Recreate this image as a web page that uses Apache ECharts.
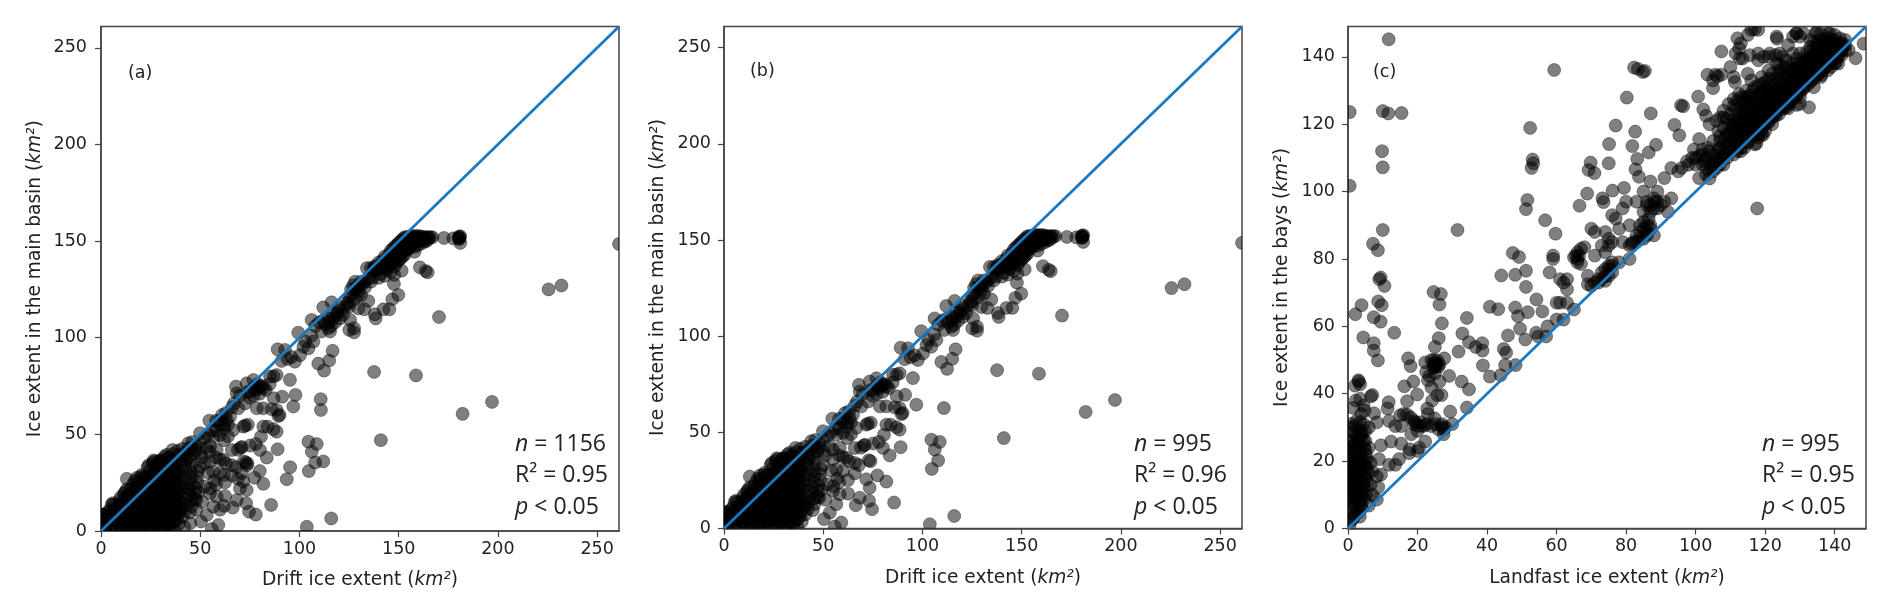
<!DOCTYPE html>
<html>
<head>
<meta charset="utf-8">
<style>html,body{margin:0;padding:0;background:#fff}#c{width:1892px;height:608px}</style>
<script src="https://cdn.jsdelivr.net/npm/echarts@6/dist/echarts.min.js"></script>
</head>
<body>
<div id="c"></div>
<script>
// Points common to panels (a) and (b): [drift ice extent, ice extent in main basin]
const driftBasinShared = [
[261,148.5],[232,127],[225.5,125],[170.3,110.7],[137.6,82.3],[158.7,80.5],[197,66.8],[182.2,60.6],[141,47],[116,6.5],[103.7,2.2],
[172.8,151.6],[177.5,151.4],[180.2,152],[180.6,151.4],[181,152.5],[180.4,151],[181,149],[180.6,152.2],
[160.7,136.4],[163.6,134.5],[164.6,133.8],[151.5,134.7],[147.8,132.5],[147.6,127.8],[149.8,122.1],[146.8,119.9],[145.3,114.7],[142.3,114.7],[138,112.1],[138.4,110],[132.7,114.7],[129.7,115.2],[134.7,119],
[127.5,102.8],[125.1,104],[127.5,104.9],[116.7,93.2],[115,88.2],[109.5,86.6],[112.4,83],[95.2,78.2],[96.9,64.4],[110.8,62.6],
[112,115.7],[116.2,118.3],[99.4,102.6],[106.1,109.2],[92.7,93.7],[91,88],[97.7,87.6],[100.3,91],[104.5,94.5],[107,98],[102,95.4],[111,103.2],[115.4,103.2],[114.5,104.9],[120.4,110],[125.5,109.2],
[89,94],[94,89],[96,90],[103,98],[106,101],[108,106],[110,108],[113,107],[115,110],[117,112],[119,113],[120,116],[122,112],[118,108],[116,106],[112,109],[124,118],[125,121],[126,125],[127,127],[128,129],[129,126],[130,124],[131,122],[128,120],[125,116],[132,128],[133,126],
[135,131],[136,136],[137,134],[138,137],[139,135],[140,139],[140,136],[141,133],[142,140],[142,137],[143,142],[143,136],[144,139],[144,135],[145,143],[145,140],[145,137],[146,145],[146,141],[146,138],[147,146],[147,143],[147,139],[148,147],[148,144],[148,141],[148,137],[149,148],[149,145],[149,142],[149,139],[150,149],[150,146],[150,143],[150,140],[151,150],[151,147],[151,144],[151,141],[152,151],[152,148],[152,145],[152,142],[153,152],[153,149],[153,146],[153,143],[154,152],[154,150],[154,147],[155,152],[155,149],[155,146],[156,152.5],[156,150],[156,147],[157,152.5],[157,150],[157,148],[158,152.5],[158,150],[158,147],[159,152.5],[159,150],[160,152.5],[160,150],[160,148],[161,152.5],[161,150],[162,152],[162,149],[163,152],[163,150],[164,152],[164,150],[165,152],[165,151],[166,152],[167,152],[158,144.5],[134,136],[137,131],[140,131],[143,132],[146,134],[133,129],[136,129],[129,122],[126,122],
[91.3,69.5],[87,68.7],[89.4,59.5],[88.5,62.6],[81.8,63.5],[78.5,63.5],[72.6,54.5],[74,55],[81.8,54],[86.9,52.6],[88.5,51.4],[80.6,48.8],[75.1,44.2],[70.4,43.1],[71,43.5],[80.1,41.9],[83.5,38],[89,42.3],[73.8,35],[73,35.5],
[104.5,46.2],[108.7,45],[106.2,41],[107.9,35.4],[104.7,31],[77.3,27.6],[81.8,24.4],[71.7,25.6],[65.9,28.7],[62.5,25.2],[73.4,21.2],[85.7,13.5],[74.6,10],[73.1,14.4],[68.4,16],[66.4,12.1],[62.5,18.1],[58.3,17.8],[56.6,12.6],[54.9,19.5],[53.3,8.3],[50.4,4.9],[59.1,3.1],[55.8,1],
[65.9,41.9],[61.7,36.8],[56.6,30.7],[54.9,41],[58.3,42],[71.7,54],[80.1,74.7],[88.5,80.7],[85.2,79.9],[76.8,78.1],[73.4,76.4],[68,74.7],[68.4,71.2],[72.6,66],[69.2,63.5],[65,59.2],[66.7,52.3],[56.6,48.8],[60,49.7],[63.3,57.5],[54.6,57.1],[49.9,50.6],[44,45.4],[36,41.9],
[78,73],[80,71],[81,75],[83,73],[85,76],[87,80],[79,76],[75,69],[77,70],[74,72],[70,70],[66,64],[67,66],[63,61],[61,60],[64,55],[62,53],[60,55],[58,52],[62,47],[64,49],[56,52],[54,50],[52,48],[50,46],[53,43],[51,38],[55,36],[58,38],[60,37],[47,40],[48,44],[46,46],[45,37],[44,41],[50,33],[54,30],[57,26],[52,23],[49,20],[48,16],[51,15],[55,22],[58,24],[60,30],[63,35],[68,33],[69,42],[66,34],[78,45],[84,54],[86,63],[90,60],
[1.5,1],[4.6,1.3],[8.2,.8],[11,1.5],[14.3,.7],[17.4,1.2],[20,.9],[23.5,1.4],[26.2,.8],[29.6,1.1],[32.3,.6],[35,1.4],[37,.7],
[.8,4],[3.5,3.6],[6.3,4.4],[9.7,3.7],[12.4,4.3],[15.6,3.5],[18.3,4.2],[21.7,3.6],[24.4,4.4],[27.6,3.8],[30.3,4.1],[33.8,3.6],[36.4,4.3],[39.2,3.7],
[.6,7],[2.7,6.6],[5.4,7.3],[8.6,6.5],[11.3,7.2],[14.7,6.6],[17.2,7.4],[20.5,6.7],[23.3,7.1],[26.5,6.6],[29.2,7.3],[32.6,6.6],[35.3,7.2],[38.5,6.7],[41,7.3],
[3.2,9.6],[6.8,10.2],[9.5,9.5],[12.8,10.3],[15.4,9.7],[18.7,10.1],[21.2,9.5],[24.6,10.2],[27.3,9.6],[30.6,10.2],[33.4,9.7],[36.7,10.1],[39.4,9.5],[42.3,10.2],[44.8,9.6],
[6.4,13.4],[9.2,12.7],[12.1,13.2],[15.8,12.6],[18.4,13.4],[21.6,12.8],[24.2,13.3],[27.8,12.6],[30.4,13.2],[33.2,12.7],[36.3,13.4],[39.7,12.8],[42.4,13.2],[45.6,12.7],
[9.4,15.7],[12.7,16.3],[15.2,15.6],[18.6,16.2],[21.3,15.7],[24.8,16.4],[27.4,15.6],[30.7,16.2],[33.5,15.8],[36.6,16.3],[39.3,15.6],[42.8,16.2],[45.4,15.7],[47.2,16.4],
[11.6,19.2],[14.3,18.7],[17.8,19.4],[20.4,18.6],[23.7,19.2],[26.3,18.8],[29.8,19.3],[32.4,18.6],[35.7,19.2],[38.2,18.7],[41.6,19.4],[44.3,18.8],[47.4,19.3],
[14.8,21.7],[17.3,22.3],[20.7,21.6],[23.4,22.2],[26.8,21.7],[29.3,22.4],[32.7,21.6],[35.4,22.2],[38.8,21.8],[41.3,22.3],[44.7,21.6],[47.8,22.2],
[18.2,25.2],[21.4,24.7],[24.7,25.3],[27.2,24.6],[30.8,25.2],[33.3,24.8],[36.8,25.3],[39.4,24.6],[42.7,25.2],[45.3,24.7],[48.6,25.3],
[21.3,27.7],[24.4,28.3],[27.7,27.6],[30.3,28.2],[33.6,27.8],[36.2,28.3],[39.7,27.6],[42.4,28.2],[45.6,27.7],[48.3,28.3],
[24.6,31.2],[27.3,30.7],[30.6,31.3],[33.2,30.6],[36.7,31.2],[39.3,30.8],[42.6,31.3],[45.2,30.7],[48.7,31.2],
[27.4,34],[30.3,33.6],[33.7,34.2],[36.4,33.7],[39.6,34.1],[42.3,33.6],[45.7,34.2],
[30.2,36.7],[33.4,37.2],[36.3,36.6],[39.8,37.3],[42.6,36.7],[44.3,38],
[33.1,39.4],[36.5,39.8],[39.4,39.6],[42.2,40.2],[44.6,43],[38.6,41.5],[41,42.5],
[-0.5,2],[2,8.5],[4.5,11],[6,14.4],[10,17.5],[13,21.5],[17,26],[20.5,29],[23.5,33],[26.5,36.5],[29.5,36.2],[32,38.5],[27,36],[24,34],[20,28],[16,24],[12,20],[5.4,13.8],[9.6,14],[.3,6.5],[.5,8.5],[1.5,8],[13,27],[18,27.5],[22,27.6],[26,35],[30,36],[34,38]
];
// Second pass over the solid black parts of panels (a) and (b)
const driftBasinDense = [
[2.5,2.4],[6.2,2.6],[9.8,2.2],[13.1,2.7],[16.4,2.3],[19.2,2.8],[22.4,2.4],[25.3,2.2],[28.5,2.7],[31.2,2.3],[34.4,2.6],
[2,5.4],[5,5.8],[8,5.2],[10.4,5.6],[13.6,5.3],[16.6,5.7],[19.4,5.2],[22.6,5.8],[25.4,5.3],[28.4,5.6],[31.5,5.2],[34.6,5.7],[37.5,5.3],
[4.6,8.4],[7.4,8.8],[10.3,8.2],[13.5,8.7],[16.3,8.3],[19.6,8.6],[22.2,8.2],[25.5,8.8],[28.4,8.3],[31.6,8.7],[34.3,8.2],[37.6,8.6],
[7.5,11.6],[10.6,11.2],[13.4,11.8],[16.7,11.3],[19.5,11.7],[22.7,11.2],[25.6,11.8],[28.6,11.3],[31.3,11.6],[34.7,11.2],[37.8,11.7],[40.5,11.3],
[10.5,14.5],[13.3,14.2],[16.5,14.8],[19.7,14.3],[22.4,14.7],[25.3,14.2],[28.7,14.6],[31.5,14.3],[34.4,14.8],[37.5,14.3],[40.6,14.6],
[13,17.6],[16.2,17.2],[19.4,17.8],[22.6,17.3],[25.5,17.7],[28.3,17.2],[31.6,17.6],[34.6,17.3],[37.3,17.8],
[16.2,20.4],[19.3,20.8],[22.2,20.3],[25.4,20.7],[28.4,20.2],[31.3,20.6],[34.5,20.3],[37.6,20.8],
[19.6,23.4],[22.5,23.8],[25.6,23.2],[28.6,23.7],[31.7,23.3],[34.2,23.6],[37.4,23.2],
[22.7,26.5],[25.7,26.2],[28.5,26.7],[31.6,26.3],[34.5,26.6],[37.5,26.2],
[26,29.5],[29,29.2],[32,29.7],[35,29.3],[38,29.6],[28.5,32.5],[31.5,32.2],[34.5,32.7],[37.5,32.3],[31.5,35.5],[35,35.2],[38,35.5],
[148,143],[149.5,144],[151,145.5],[152.5,147],[154,148.5],[155.5,150],[157,151],[158.5,151],[160,151],[161.5,151],[146.5,142],[145,141.5],[143.5,140],[142,138.5],[140.5,137.5],[139,136.5],[137.5,135.5],[150,142],[152,144],[154,145.5],[156,148.5],
[125,118],[123,116],[121,114],[119,112],[117,110],[115,108],[128,125],[130,127],[131,129],[77,74],[79,74],[82,74],[75,72],[58,57],[60,57],[62,55],[46,43],[48,42],[50,40]
];
// Points that appear only in panel (a)
const driftBasinOnlyA = [
[110.7,68.2],[98,70.4],[95.3,33],[93.6,26.8],[112,36],[78,8.5],[62,29],[69,27],[70,22],[71,30],[62,13],[80,31],[60,11],[48,11],[45,4],[42,2],[44,22],[52,35],[55,44],[72,36],[73.5,34]
];
// Panel (c): [landfast ice extent, ice extent in the bays]
const landfastBays = [
[11.7,145.2],[59.3,136.1],[82.3,136.8],[83.4,136.4],[84.8,135.5],[85.4,135.8],[.5,123.6],[10,123.9],[11.6,123.2],[15.4,123.3],[9.8,112],[10,107.2],[.5,101.7],[10,88.6],[31.5,88.6],
[7.2,84.5],[8.6,82.6],[9.4,74.5],[9,74],[10.5,72],[8.7,67.4],[9.7,66.3],[3.9,66.3],[2.1,63.6],[7.4,62.7],[9.4,61.4],[13.3,58.1],[4.4,56.7],[7.4,55],[7.4,52.8],[8.6,49.9],
[52.4,118.9],[53.1,109.5],[53.3,108.4],[52.8,107],[51.6,97.5],[51.2,94.8],[56.7,91.5],[59.7,87.5],[47.4,81.8],[49.2,80.6],[51.2,76.5],[48.1,75.3],[44.1,75.1],[51.2,71.7],[54.2,68],[40.8,65.8],[43.2,65.1],[48.1,65.6],[48.9,63],[51.7,64.2],[55.9,64.4],[49.5,59.3],[46,57.3],[51,56.1],[54.1,58.1],[54.7,57],[57.4,60],
[24.6,70.2],[26.7,69.6],[26.3,66.5],[27,60.9],[34.2,62.5],[32.9,57.9],[34.8,55.3],[26.1,56.5],[25,53.9],[31.8,52.5],[36.7,53.9],[38.6,55],[38.7,52.8],[44.8,53.3],[45.5,52.2],[45.2,48.5],[48.2,48.5],[38.8,48.4],[40.8,45.1],[43.9,45.5],[29.1,45.3],[32.7,43.6],[34.8,41.3],[34.2,35.9],[29.4,34.7],[30,31],
[17.3,50.5],[18,48.2],[16.2,42.2],[17,37.8],[19.9,39.8],[18.8,43.6],[27.7,50.5],[22.2,49.3],[25.7,49.9],[24.6,47.6],[26.3,48.7],[23.4,45.3],[26.3,43.6],[24,41.9],[25.7,39.6],[26.9,39.6],[22.8,35.6],[24.9,32.7],[24,30.4],[21.1,30.4],[26.9,30.4],[27.5,28],[19.4,31.5],[25.4,49],[24.8,50],[25,46],[22.5,46.5],[23,44],[26,48],[24.2,38],[23,34],[25,31],[27,31],[26,29.5],[22.5,31],
[11.7,37.5],[11.4,35.6],[11.8,31.9],[15,33.6],[13.6,30.4],[17,33.8],[15.3,30.4],[18.2,28],[12.4,25.8],[9.5,24.7],[15.3,25.2],[17.8,23.5],[20.5,24],[22.2,25.8],[17.6,22.4],[14.7,20.6],[13.6,18.9],[11.8,18.9],[8.9,20.6],[9.5,16],[8.3,15.5],[8.7,12.3],[8.3,8.6],[19,32],[20,29],[16,34],[18,33],[21,31.5],[20,23],
[3.1,43.6],[2,42.4],[3.5,42.8],[3,44],[7,39.6],[6.6,39.2],[7.5,34.2],[8.3,31.5],[2.2,38],[3.5,38.5],[4.5,36.5],[4.8,35],[1.5,35.8],[3.8,34],[2.5,32],[4.5,31],[6,30],[3.2,29],[1.5,28.5],[4,27.5],[2.5,27],[5,26],[1,26],[3,25],[4.5,24],[.8,23.5],[2.5,22.5],[5.2,22],[1,21],[3.5,21],[4.8,20],[.5,19.5],[2,19],[4,18.5],[5.5,18],[1,17.5],[3,17],[4.8,16],[.5,15.5],[2.2,15],[3.8,14.5],[5.4,14],[1.2,13.5],[3,13],[4.6,12.5],[.4,11.5],[2,11],[3.8,10.5],[5.4,11],[1,10],[3,9],[4.6,8.6],[.6,8],[2.2,7.5],[3.8,7],[1,6],[2.8,5.5],[.5,4.5],[2,4],[3.4,3.5],[1,2.5],[.5,1.2],[6,6.8],[7,10],[6.5,13],[7,17],[6.5,19.5],[6,24],[.4,30],[.5,26],[.3,22],[.3,17],[.3,13],[.3,9],[2,16.5],[2,12.5],[3.5,19.5],[3.5,23],[2,25],[4,28.5],[5,29],[2,30.5],[3.5,31.5],[1,31],
[134.5,147],[123.4,145.4],[146,139.6],[148.3,143.9],[132.6,125],[117.7,95],[107.4,141.6],[116,148],[117,148.2],[118,148],[115,146.5],[112,145.5],[113,144],[112.5,142.5],[111.5,141],[112.7,139.5],[110,137],[111,134],[111.3,132.5],[113.5,139.5],[115,135],[116,133],[118,139],[119.5,140],[121,140],[123,140.5],[125,140],[127,137],[129,147],[130,146],[131,147],[128,146],[136,147],[138,147],[140,146.5],[137,145],[133,145],
[107.4,134.7],[103.4,134.7],[105.7,134.7],[106.3,134.2],[105,133],[105,130.7],[100.7,128.2],[102.2,124.4],[103,122.5],[104,120],[106,121],[107,122],[108,124],[93.9,119.8],[95.3,116.7],[80.2,127.9],[87.1,123.2],[77,119.6],[82.6,117.8],[75.1,114.1],[81.8,113.5],[88.6,113.9],[86.5,111.6],[83.2,109.7],[75,108.4],[69.8,108.6],[69.2,106.4],[70.9,105.5],[82.7,106.6],[83.7,104.4],[95.8,125.6],[96.4,125.3],[68.8,99.4],[66.6,95.8],[73.2,98],[73.5,96.9],[76.1,100.3],[79.4,101.1],
[101,115.6],[97.5,109],[99.5,112.5],[98,108],[96,107],[93,107],[95,106],[91,104],[89,100],[87,103],[85,100],[83,97],[88,97],[90,96],[86,96],[85,94],[87,94],[89,95],[91,97],[93,98],[92,94],[84,90],[85,89],[86,88],[87,90],[88,87],[83,87],[84,86],[82,85],[81,90],[80,97],[79,95],[81,84],[79,85],[78,89],[77,92],[76,93],[75,86],[76,85],[75,84],[74,88],[74,82],[71,88],[70,89],[71,81],[73,84],[81,80],[78,79],[76,78],[75,77],[74,75],[76,76],[73,74],[72,73],[71,73],[70,72],[69,72.5],[68,83.5],[67,83],[66,80],[65,80.5],[67,78.5],[66,82],[69,75],[62,73],[61,74],[63,74],[63,71],[58,76],[59,80],[59,81],[60,62],[62,62],[61,67],[60,67],[63,67],[65,65],[57,57],
[103,105],[102,108],[103,110],[104,112],[105,109],[106,107],[105,106],[106,111],[107,113],[108,108],[108,111],[109,110],[110,112],[110,115],[108,114],[101,104],[102,111],[100,108],[100,110],[99,110],[111,113],[112,115],[112,118],[110,118],[109,117],[107,115],[113,117],[114,116],[115,117],[114,119],[113,121],[111,120],[112,123],[114,122],[115,120],[116,118],[116,116.5],[118,116],[117,114],[119,117],[117,120],[118,123],[116,123],[115,125],[113,125],[112,127],[114,128],[116,127],[118,126],[120,124],[119,120],[121,122],[120,120],[122,123],[121,126],[123,126],[122,129],[120,128],[118,129],[117,131],[119,132],[121,131],[123,130],[125,127],[124,125],[126,128],[125,130],[124,133],[122,133],[127,130],[126,132],[128,129],[128,132],[126,135],[124,136],[129,133],[129,130],[130,131],[130,134],[128,135],[131,132],[131,135],[129,137],[132,133],[132,136],[132,139],[130,138],[133,134],[133,137],[133,140],[134,135],[134,138],[134,141],[135,136],[135,139],[135,142],[136,137],[136,140],[136,143],[137,138],[137,141],[137,144],[138,139],[138,142],[138,144],[139,140],[139,143],[139,137],[140,141],[140,144],[140,138],[141,142],[141,144],[142,143],[142,144],[143,143.5],[144,142],[136,134],[130,126],[127,126],[125,125],[123,123],[122,120],[120,118],[118,117],[114,113],[113,112],[112,112],[134,131],[138,136],[141,138],[130,128],
[115.6,140.5],[118,141],[121.3,141],[124.2,141],[123.3,138],[126.6,143.5],[123.3,146],[129,147],[134.8,147.4],[138.6,147],[129,125.7],[126.6,124.7],[117.5,114.3],[115.1,114.8],[119.4,116.8],[104,103.9],[136.2,134.6],[140.5,138.5]
];
// Second pass over the solid black parts of panel (c)
const landfastBaysDense = [
[1.5,3],[3,4.8],[1.8,6.5],[4,6],[1.5,9],[3.5,8],[5,10],[1.8,11],[3.2,11.5],[4.5,13.5],[1.5,14.5],[3,15.5],[5,15],[1.5,16.5],[3.5,16.5],[5.8,16.5],[1.8,18.5],[3,18.5],[5,18.5],[1.5,20.5],[3.2,20],[5.5,20.5],[1.8,22.5],[3.5,22],[5,23.5],[1.5,24.5],[3,26.5],[4.5,26],[2.3,28],[3.5,27.5],[2.2,10],[.8,14],[.7,18.5],[.7,21],[4.2,10],[2.5,13.5],
[104,106],[105,108],[103,107],[106,109],[107,110],[107,108],[109,112],[108,110],[109,114],[111,116],[110,114],[112,114],[111,118],[113,115],[113,119],[115,119],[114,117],[115,122],[116,120],[117,118],[117,122],[116,125],[118,120],[118,122],[119,122],[119,124],[120,122],[120,126],[121,124],[122,125],[121,128],[123,124],[123,128],[124,127],[124,130],[122,131],[125,128],[125,132],[126,127],[126,130],[127,128],[127,132],[128,130],[128,134],[129,131],[129,135],[130,132],[130,136],[131,133],[131,137],[132,134],[132,138],[133,135],[133,139],[134,136],[134,140],[135,137],[135,141],[136,138],[136,141],[137,139],[137,142],[138,140],[138,143],[139,141],[139,144],[140,142],[140,143],[141,141],[141,143],[142,142],[139,138.5],[143,142],[137,136.5],[135,134.5],[133,132.5],[131,130.5],[129,128.5],[127,126.5],[125,124.5],[123,122.5],[121,120.5],[119,118.5],[117,116.5],[115,114.5],[113,113],[111,111],[118,125],[116,122],[114,124],[115,128],[117,128],[119,128],[120,130],[122,127],
[86,90],[86.5,92],[87,89],[85,91],[86,87],[84,88],[85,86],[88,95],[87,96],[89,97],[86,97],[88,98],[73,76],[74,77],[75,78],[76,79],[72,74],[75,75],[74,73.5],[81.5,84.5],[83,85],[65.5,81],[66.5,81],[66,79],[25.5,48.5],[24.5,49],[24,50],[25,48],[28,30],[27.5,29.5],[19,31],[20,30.5],[22,30.5]
];
// Third pass: the wide black band of panel (c) from about 100 to 143
const landfastBaysBand = [
[101,110.5],[102.5,109],[104,108.5],[102,112.5],[103.5,113],[105,111],[106.5,112.5],[105,115],[107,116.5],[108.5,116],[110,117],[106.5,118],[108,119],[109.5,120],[111,121.5],[108,122],[110,123],[111.5,124.5],[109.5,126],[111,127.5],[112.5,129],[113.5,126.5],[114.5,130],[115.5,128.5],[116.5,130],[118,131.5],[119,130],[120,132.5],[121,133.5],[122,135],[123.5,134],[124.5,135.5],[125.5,137],[127,136],[128,138],[129,139.5],[130,141],[131,139.5],[132,141.5],[133,143],[134,144.5],[135,144],[136,145],[138,145.5],[140,145],[141.5,145.5],[143,145],
[112,116.5],[113,118],[114,118.5],[115,118.5],[116,119.5],[117,121],[118,119],[119,121],[120,123],[121,121],[122,122],[123,125],[124,123],[125,126],[126,125],[127,127],[128,127.5],[129,129],[130,129.5],[131,131],[132,131.5],[133,133],[134,133.5],[135,135],[136,135.5],[137,137],[138,137.5],[139,139],[140,139.5],[141,140],[142,140.5],
[112.5,120],[113.5,122.5],[114.5,124],[115.5,121.5],[116.5,124],[117.5,125.5],[118.5,124],[119.5,126],[120.5,127],[121.5,129],[122.5,127.5],[123.5,129],[124.5,131],[125.5,129],[126.5,131],[127.5,133],[128.5,136],[129.5,132],[130.5,135],[131.5,136.5],[132.5,135],[133.5,138],[134.5,137],[135.5,140],[136.5,139],[137.5,140],[138.5,141],[139.5,142],[140.5,143],[141.5,141],[142.5,143],
[111,125.5],[112,121],[110.5,119.5],[109,121.5],[113,128],[115,126.5],[117,126.5],[119,129.5],[121,130],[123,132],[125,134],[127,134.5],[129,136.5],[131,138.5],[133,141.5],[135,143.5],[137,143],[139,145],[128,141],[126,139],[124,138],[121,136],[119,134]
];
// Reference line and axis ticks
const identityAB = [[0,0],[261,261]];
const identityC = [[0,0],[149,149]];
const ticksAB = [0,50,100,150,200,250];
const ticksC = [0,20,40,60,80,100,120,140];
const statsA = ['1156','0.95'];
const statsB = ['995','0.96'];
const statsC = ['995','0.95'];

const pointsB = driftBasinShared.concat(driftBasinDense);
const pointsA = pointsB.concat(driftBasinOnlyA);
const pointsC = landfastBays.concat(landfastBaysDense,landfastBaysBand);

const tickFont = 'DejaVu Sans';
const textCol = '#222';
const rich = {
  a:{fontFamily:tickFont,fontSize:18.6,color:textCol},
  i:{fontFamily:tickFont,fontSize:18.6,color:textCol,fontStyle:'italic'}
};
function nameOf(t){return '{a|'+t+' (}{i|km²}{a|)}';}
const panels = [
  {grid:{left:101,top:26.5,width:518,height:504.5},max:261,ticks:ticksAB,pts:pointsA,line:identityAB,xn:'Drift ice extent',yn:'Ice extent in the main basin',label:'(a)',lx:128,ly:73,stats:statsA,sx:515,ym:14},
  {grid:{left:724,top:26.5,width:518,height:502},max:261,ticks:ticksAB,pts:pointsB,line:identityAB,xn:'Drift ice extent',yn:'Ice extent in the main basin',label:'(b)',lx:750,ly:71,stats:statsB,sx:1134,ym:13},
  {grid:{left:1348,top:26.5,width:518,height:502},max:149,ticks:ticksC,pts:pointsC,line:identityC,xn:'Landfast ice extent',yn:'Ice extent in the bays',label:'(c)',lx:1373,ly:72,stats:statsC,sx:1762,ym:13}
];
function axis(p,i,name,gap,margin,pad){
  return {
    type:'value',gridIndex:i,min:0,max:p.max,
    name:nameOf(name),nameLocation:'middle',nameGap:gap,nameTextStyle:{rich:rich},
    splitLine:{show:false},
    axisLine:{show:true,onZero:false,lineStyle:{color:'#444',width:1.5}},
    axisTick:{show:true,length:6,customValues:p.ticks,lineStyle:{color:'#444',width:1.2}},
    axisLabel:{customValues:p.ticks,fontFamily:tickFont,fontSize:17.5,color:textCol,margin:margin,padding:pad}
  };
}
const stat = (x,y,rt)=>({type:'text',left:x,top:y,style:{text:rt,fontFamily:'Open Sans',fontSize:23,fill:'#222',
  rich:{it:{fontFamily:'Open Sans',fontSize:23,fontStyle:'italic',fill:'#222'}}}});
const graphic=[];
panels.forEach(p=>{
  graphic.push({type:'text',left:p.lx,top:p.ly-9,style:{text:p.label,fontFamily:tickFont,fontSize:17.5,fill:'#222'}});
  graphic.push(stat(p.sx,433,'{it|n} = '+p.stats[0]));
  graphic.push(stat(p.sx,464,'R² = '+p.stats[1]));
  graphic.push(stat(p.sx,496,'{it|p} < 0.05'));
});
function renderDot(params,api){
  const c=api.coord([api.value(0),api.value(1)]);
  return {type:'circle',shape:{cx:c[0],cy:c[1],r:6.5},
    style:{fill:'rgba(0,0,0,0.5)',stroke:'rgba(0,0,0,0.35)',lineWidth:1}};
}
const option = {
  animation:false,backgroundColor:'#fff',
  grid:panels.map(p=>Object.assign({show:true,borderColor:'#444',borderWidth:1.5,backgroundColor:'transparent'},p.grid)),
  xAxis:panels.map((p,i)=>axis(p,i,p.xn,40,9,0)),
  yAxis:panels.map((p,i)=>axis(p,i,p.yn,56,p.ym,[5,0,0,0])),
  series:panels.flatMap((p,i)=>[
    {type:'custom',coordinateSystem:'cartesian2d',xAxisIndex:i,yAxisIndex:i,data:p.pts,encode:{x:0,y:1},renderItem:renderDot,clip:true,z:2,silent:true},
    {type:'line',xAxisIndex:i,yAxisIndex:i,data:p.line,showSymbol:false,symbol:'none',clip:true,
     lineStyle:{color:'#1b7abf',width:2.8},z:3}
  ]),
  graphic:graphic
};
echarts.init(document.getElementById('c')).setOption(option);
</script>
</body>
</html>
